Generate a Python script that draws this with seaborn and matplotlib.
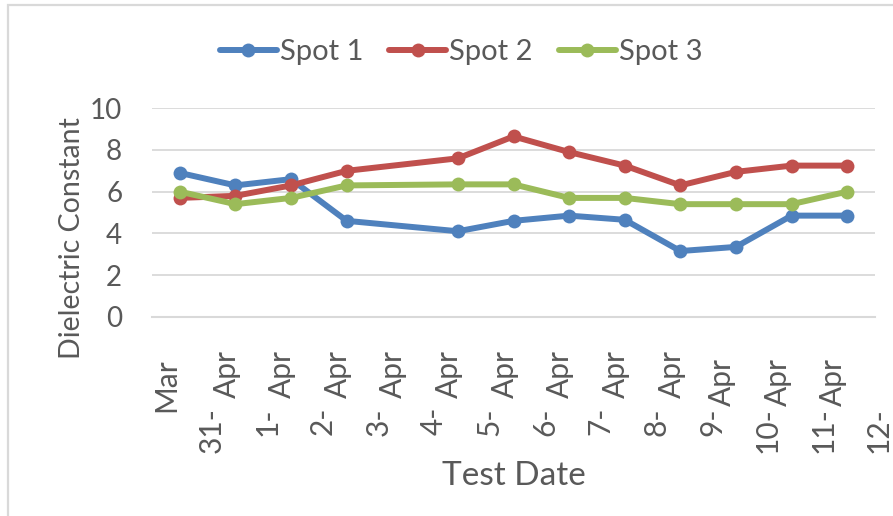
import matplotlib
matplotlib.use("Agg")
import matplotlib.pyplot as plt
import matplotlib.transforms as mtransforms
from matplotlib.patches import Rectangle
import seaborn as sns
import pandas as pd

# ---- data ----
test_dates = ["31-Mar", "1-Apr", "2-Apr", "3-Apr", "5-Apr", "6-Apr",
              "7-Apr", "8-Apr", "9-Apr", "10-Apr", "11-Apr", "12-Apr"]
spot1 = [6.9, 6.3, 6.6, 4.6, 4.1, 4.6, 4.85, 4.65, 3.15, 3.35, 4.85, 4.85]
spot2 = [5.7, 5.8, 6.3, 7.0, 7.6, 8.65, 7.9, 7.25, 6.3, 6.95, 7.25, 7.25]
spot3 = [6.0, 5.4, 5.7, 6.3, 6.35, 6.35, 5.7, 5.7, 5.4, 5.4, 5.4, 6.0]
series_names = ["Spot 1", "Spot 2", "Spot 3"]
y_ticks = [0, 2, 4, 6, 8, 10]

colors = ["#4F81BD", "#C0504D", "#9BBB59"]
text_color = "#595959"
grid_color = "#D9D9D9"

# date axis -> day offsets from the first test
dt = pd.to_datetime(test_dates, format="%d-%b")
day = (dt - dt[0]).days
all_days = pd.date_range(dt[0], dt[-1], freq="D")

df = pd.concat([
    pd.DataFrame({"day": day, "value": vals, "series": name})
    for name, vals in zip(series_names, [spot1, spot2, spot3])
])

sns.set_theme(style="white")
plt.rcParams["font.family"] = ["Lato", "DejaVu Sans"]

fig = plt.figure(figsize=(8.93, 5.16), dpi=100)
ax = fig.add_axes([152 / 893, 1 - 316.7 / 516, 723 / 893, 208.4 / 516])

sns.lineplot(data=df, x="day", y="value", hue="series", hue_order=series_names,
             palette=colors, marker="o", markersize=10, markeredgewidth=0,
             linewidth=4.3, ax=ax)

n = len(all_days)
ax.set_xlim(-0.5, n - 0.5)
ax.set_ylim(0, 10)
ax.set_yticks(y_ticks)
ax.set_xticks([k - 0.5 for k in range(n + 1)])
ax.set_xticklabels([])

ax.grid(axis="y", color=grid_color, linewidth=1.3)
ax.grid(axis="x", visible=False)
for s in ["left", "right", "top"]:
    ax.spines[s].set_visible(False)
ax.spines["bottom"].set_color(grid_color)
ax.spines["bottom"].set_linewidth(1.5)
ax.tick_params(axis="x", length=7.2, width=1.3, color=grid_color, direction="out")
ax.tick_params(axis="y", length=0, pad=21.5, labelsize=20, labelcolor=text_color)

# Excel-style wrapped date labels (day part lower right, month part upper left)
TICK_FS = 21.5
trans = mtransforms.blended_transform_factory(ax.transData, fig.transFigure)
for k, d in enumerate(all_days):
    day_txt = f"{d.day}-"
    mon_txt = d.strftime("%b")
    wide = len(str(d.day)) > 1
    mx = k - 0.5 + (0.25 if wide else 0.34)
    my = 1 - (358 if wide else 350) / 516
    ax.text(mx, my, mon_txt, transform=trans, rotation=90, ha="center",
            va="top", fontsize=TICK_FS, color=text_color)
    ax.text(k + 0.5 + 0.07, 1 - 407 / 516, day_txt, transform=trans,
            rotation=90, ha="center", va="top", fontsize=TICK_FS, color=text_color)

ax.set_xlabel("Test Date", fontsize=24, color=text_color)
ax.xaxis.set_label_coords(0.5, -0.691)
ax.set_ylabel("Dielectric Constant", fontsize=20.5, color=text_color)
ax.yaxis.set_label_coords(-0.092, 0.378)

handles, labels = ax.get_legend_handles_labels()
ax.legend(handles, labels, loc="center", bbox_to_anchor=(461 / 893, 1 - 52 / 516),
          bbox_transform=fig.transFigure, ncol=3, frameon=False, fontsize=21,
          handlelength=1.95, handletextpad=0.1, columnspacing=0.9,
          labelcolor=text_color)

# light chart-area border (only top/left visible in the crop)
fig.add_artist(Rectangle((8 / 893, -0.5), 1.5, 0.5 + 1 - 5 / 516,
                         transform=fig.transFigure, fill=False,
                         edgecolor=grid_color, linewidth=1.6))

fig.savefig("out.png", dpi=100)
